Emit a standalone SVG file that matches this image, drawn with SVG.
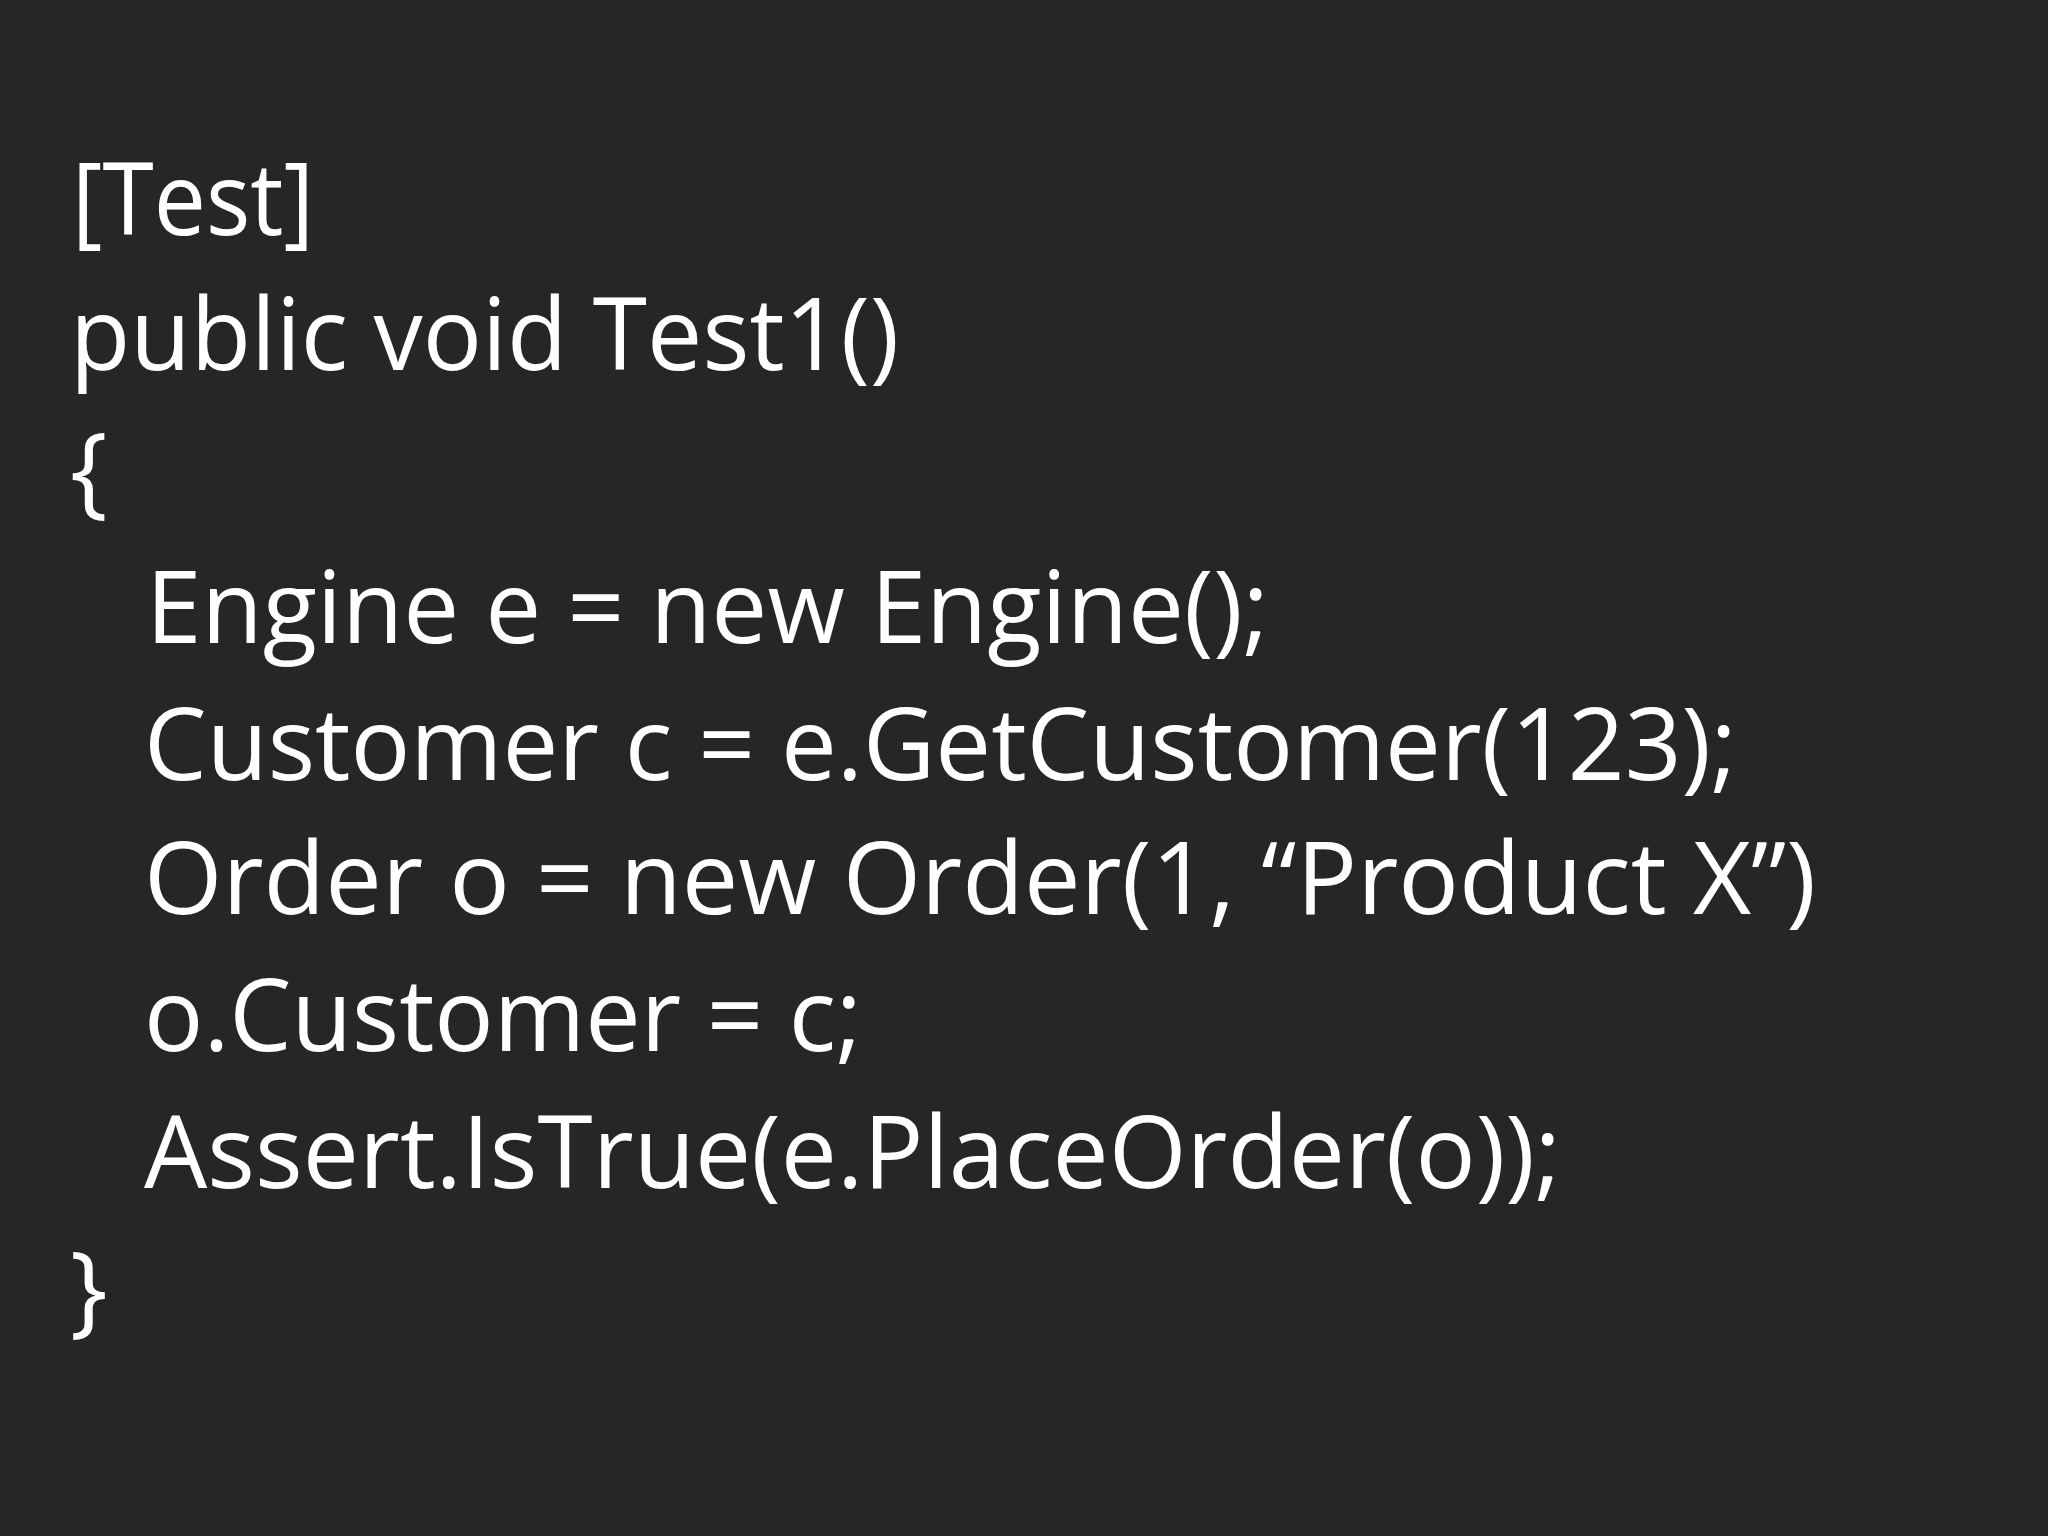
<svg xmlns="http://www.w3.org/2000/svg" width="2048" height="1536" viewBox="0 0 2048 1536">
<style>
text{font-family:"Open Sans","Noto Sans","Liberation Sans",sans-serif;font-size:100px;fill:#ffffff}
</style>
<rect width="2048" height="1536" fill="#262626"/>
<text x="72" y="235" textLength="242" lengthAdjust="spacingAndGlyphs">[Test]</text>
<text x="70" y="370" textLength="829" lengthAdjust="spacingAndGlyphs">public void Test1()</text>
<text x="70" y="505">{</text>
<text x="146" y="643" textLength="1123" lengthAdjust="spacingAndGlyphs">Engine e = new Engine();</text>
<text x="144" y="780" textLength="1593" lengthAdjust="spacingAndGlyphs">Customer c = e.GetCustomer(123);</text>
<text x="144" y="914" textLength="1672" lengthAdjust="spacingAndGlyphs">Order o = new Order(1, “Product X”)</text>
<text x="144" y="1051" textLength="718" lengthAdjust="spacingAndGlyphs">o.Customer = c;</text>
<text x="144" y="1188" textLength="1417" lengthAdjust="spacingAndGlyphs">Assert.IsTrue(e.PlaceOrder(o));</text>
<text x="70" y="1324">}</text>
</svg>
